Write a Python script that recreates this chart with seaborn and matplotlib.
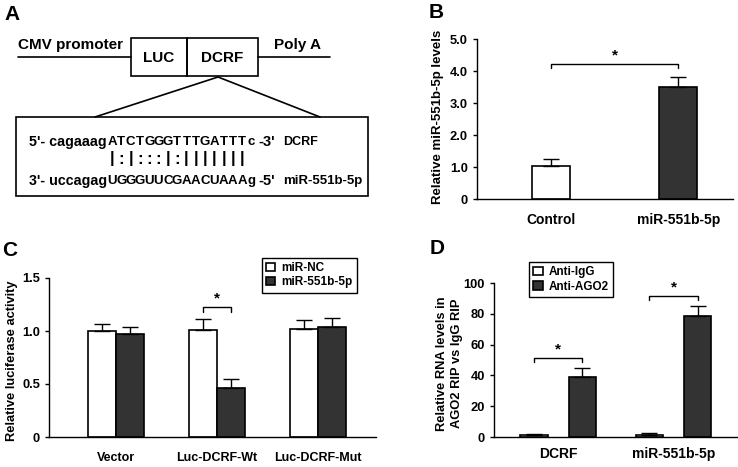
import matplotlib
matplotlib.use("Agg")
import matplotlib.pyplot as plt
import matplotlib.ticker as mticker
import numpy as np
import pandas as pd
import seaborn as sns

# ---- data -------------------------------------------------------------
# B: miR-551b-5p levels
b_groups = ["Control", "miR-551b-5p"]
b_means = [1.04, 3.50]
b_errs = [0.21, 0.30]

# C: luciferase reporter
c_groups = ["Vector", "Luc-DCRF-Wt", "Luc-DCRF-Mut"]
c_treat = ["miR-NC", "miR-551b-5p"]
c_nc = [1.00, 1.01, 1.02]
c_mir = [0.97, 0.46, 1.04]
c_nc_err = [0.07, 0.10, 0.08]
c_mir_err = [0.07, 0.09, 0.08]

# D: RIP assay
d_groups = ["DCRF", "miR-551b-5p"]
d_treat = ["Anti-IgG", "Anti-AGO2"]
d_igg = [1.3, 1.3]
d_ago2 = [39.0, 78.4]
d_igg_err = [0.6, 1.3]
d_ago2_err = [5.8, 6.5]

# A: binding site sequences
seq_top_pre = "5'- cagaaag"
seq_top_core = "ATCTGGGTTTGATTT"
seq_top_suf = ["c", "-3'"]
seq_bot_pre = "3'- uccagag"
seq_bot_core = "UGGGUUCGAACUAAA"
seq_bot_suf = ["g", "-5'"]
pairing = "|:|:::|:|||||||"

DARK = "#333333"
W, H = 738, 467

sns.set_style("ticks")
plt.rcParams["font.family"] = ["Liberation Sans", "DejaVu Sans"]
plt.rcParams["font.weight"] = "bold"
plt.rcParams["axes.labelweight"] = "bold"
plt.rcParams["axes.linewidth"] = 1.0
for key in ["text.color", "axes.labelcolor", "xtick.color", "ytick.color", "axes.edgecolor"]:
    plt.rcParams[key] = "black"


def px_axes(fig, left, top, right, bottom):
    return fig.add_axes([left / W, 1 - bottom / H, (right - left) / W, (bottom - top) / H])


def style_axis(ax, xsize, xpad):
    sns.despine(ax=ax)
    ax.tick_params(axis="y", direction="out", length=3, width=1, labelsize=9.3)
    ax.tick_params(axis="x", length=0, labelsize=xsize, pad=xpad)
    for lab in ax.get_xticklabels() + ax.get_yticklabels():
        lab.set_fontweight("bold")
    ax.set_xlabel("")


def bar_centers(container):
    return [p.get_x() + p.get_width() / 2 for p in container]


def upper_err(ax, xs, means, errs):
    ax.errorbar(xs, means, yerr=[np.zeros(len(errs)), errs], fmt="none",
                ecolor="black", elinewidth=1, capsize=5.5, capthick=1, zorder=3)


def bracket(ax, x1, x2, y, drop, star_gap):
    ax.plot([x1, x1, x2, x2], [y - drop, y, y, y - drop], color="black", lw=1)
    ax.text((x1 + x2) / 2, y + star_gap, "*", ha="center", va="bottom",
            fontsize=11, fontweight="bold")


def boxed_legend(ax, anchor):
    h, l = ax.get_legend_handles_labels()
    leg = ax.legend(h, l, loc="upper left", bbox_to_anchor=anchor, frameon=True,
                    fancybox=False, edgecolor="black", framealpha=1,
                    handlelength=0.8, handleheight=0.7, handletextpad=0.5,
                    borderpad=0.35, labelspacing=0.2, borderaxespad=0,
                    prop={"weight": "bold", "size": 8.5})
    leg.get_frame().set_linewidth(1.0)


fig = plt.figure(figsize=(W / 100, H / 100), dpi=100)

# ---- A: construct diagram (pixel coordinates) ---------------------------
ov = fig.add_axes([0, 0, 1, 1])
ov.set_xlim(0, W)
ov.set_ylim(H, 0)
ov.axis("off")

lw = 1.2
ov.plot([18, 131], [57, 57], color="black", lw=lw)
ov.plot([258, 330], [57, 57], color="black", lw=lw)
ov.add_patch(plt.Rectangle((131, 38), 56, 38, fill=False, edgecolor="black", lw=lw))
ov.add_patch(plt.Rectangle((187, 38), 71, 38, fill=False, edgecolor="black", lw=lw))
ov.text(18, 45, "CMV promoter", fontsize=11, va="center", ha="left")
ov.text(274, 45, "Poly A", fontsize=11, va="center", ha="left")
ov.text(159, 58, "LUC", fontsize=11, va="center", ha="center")
ov.text(222, 58, "DCRF", fontsize=11, va="center", ha="center")
ov.plot([95, 218, 320], [117, 77, 117], color="black", lw=lw)
ov.add_patch(plt.Rectangle((16, 117), 352, 79, fill=False, edgecolor="black", lw=lw))

core_x0, core_dx = 112, 9.3
y_top, y_mid, y_bot = 142, 159, 181
fs_seq = 9.5
for y, pre, core, suf in [(y_top, seq_top_pre, seq_top_core, seq_top_suf),
                          (y_bot, seq_bot_pre, seq_bot_core, seq_bot_suf)]:
    ov.text(core_x0 - 5, y, pre, fontsize=10.3, ha="right", va="center")
    for i, ch in enumerate(core):
        ov.text(core_x0 + core_dx * i, y, ch, fontsize=fs_seq, ha="center", va="center")
    ov.text(core_x0 + core_dx * 14 + 5, y, suf[0], fontsize=fs_seq, ha="left", va="center")
    ov.text(258, y, suf[1], fontsize=10.5, ha="left", va="center")
for i, p in enumerate(pairing):
    ov.text(core_x0 + core_dx * i, y_mid, p, fontsize=12, ha="center", va="center")
ov.text(283, y_top, "DCRF", fontsize=9, ha="left", va="center")
ov.text(283, y_bot, "miR-551b-5p", fontsize=9.5, ha="left", va="center")

for letter, x, y in [("A", 12, 15), ("B", 436, 13), ("C", 10, 250), ("D", 437, 248)]:
    ov.text(x, y, letter, fontsize=15, fontweight="bold", ha="center", va="center")

# ---- B ----------------------------------------------------------------
axb = px_axes(fig, 477, 39, 733, 199)
sns.barplot(x=b_groups, y=b_means, hue=b_groups, palette=["white", DARK],
            legend=False, width=0.3, edgecolor="black", linewidth=1.2, ax=axb)
xs_b = [p.get_x() + p.get_width() / 2 for p in axb.patches]
upper_err(axb, xs_b, b_means, b_errs)
axb.set_xlim(-0.58, 1.43)
axb.set_ylim(0, 5)
axb.set_yticks(np.arange(0, 5.01, 1.0))
axb.yaxis.set_major_formatter(mticker.FuncFormatter(lambda v, _: "0" if v == 0 else f"{v:.1f}"))
axb.set_ylabel("Relative miR-551b-5p levels", fontsize=9.5)
axb.yaxis.set_label_coords(-0.129, 0.516)
bracket(axb, xs_b[0], xs_b[1], 4.22, 0.13, 0.06)
style_axis(axb, 10, 10)

# ---- C ----------------------------------------------------------------
axc = px_axes(fig, 49, 278, 376, 437)
df_c = pd.DataFrame({
    "group": c_groups * 2,
    "treat": [c_treat[0]] * 3 + [c_treat[1]] * 3,
    "value": c_nc + c_mir,
})
sns.barplot(data=df_c, x="group", y="value", hue="treat", palette=["white", DARK],
            width=0.55, edgecolor="black", linewidth=1.2, ax=axc)
xs_nc = bar_centers(axc.containers[0])
xs_mir = bar_centers(axc.containers[1])
upper_err(axc, xs_nc, c_nc, c_nc_err)
upper_err(axc, xs_mir, c_mir, c_mir_err)
axc.set_xlim(-0.66, 2.57)
axc.set_ylim(0, 1.5)
axc.set_yticks([0, 0.5, 1.0, 1.5])
axc.yaxis.set_major_formatter(mticker.FuncFormatter(lambda v, _: "0" if v == 0 else f"{v:.1f}"))
axc.set_ylabel("Relative luciferase activity", fontsize=9.3)
axc.yaxis.set_label_coords(-0.095, 0.48)
bracket(axc, xs_nc[1], xs_mir[1], 1.226, 0.045, 0.015)
boxed_legend(axc, (0.651, 1.126))
style_axis(axc, 9, 11)

# ---- D ----------------------------------------------------------------
axd = px_axes(fig, 494, 283, 737, 437)
df_d = pd.DataFrame({
    "group": d_groups * 2,
    "treat": [d_treat[0]] * 2 + [d_treat[1]] * 2,
    "value": d_igg + d_ago2,
})
sns.barplot(data=df_d, x="group", y="value", hue="treat", palette=["white", DARK],
            width=0.84, gap=0.44, edgecolor="black", linewidth=1.2, ax=axd)
xs_igg = bar_centers(axd.containers[0])
xs_ago = bar_centers(axd.containers[1])
upper_err(axd, xs_igg, d_igg, d_igg_err)
upper_err(axd, xs_ago, d_ago2, d_ago2_err)
axd.set_xlim(-0.557, 1.55)
axd.set_ylim(0, 100)
axd.set_yticks(np.arange(0, 101, 20))
axd.set_ylabel("Relative RNA levels in\nAGO2 RIP vs IgG RIP", fontsize=9.3, linespacing=1.3)
axd.yaxis.set_label_coords(-0.128, 0.477)
bracket(axd, xs_igg[0], xs_ago[0], 51.3, 2.6, 1.0)
bracket(axd, xs_igg[1], xs_ago[1], 91.6, 2.9, 1.0)
boxed_legend(axd, (0.144, 1.136))
style_axis(axd, 10, 7)

fig.savefig("out.png", dpi=100)
